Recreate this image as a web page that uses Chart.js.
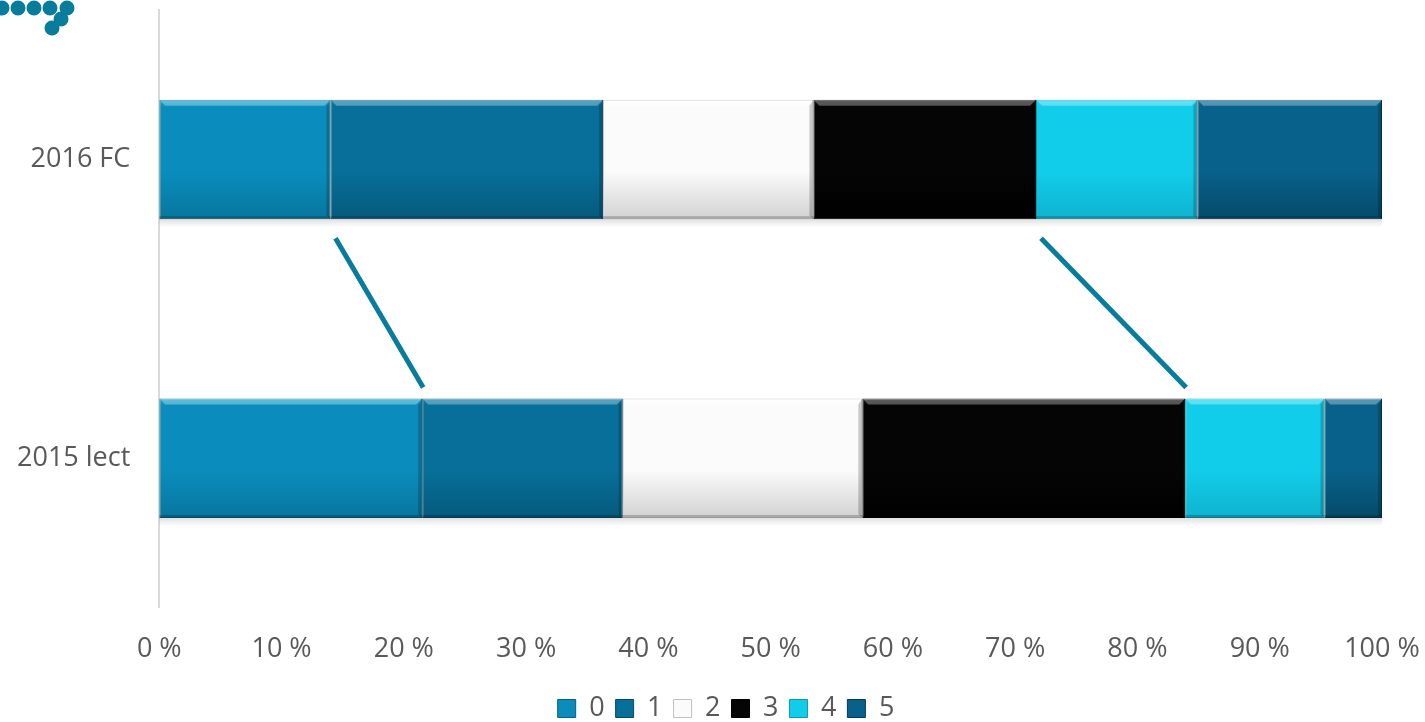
<!DOCTYPE html>
<html>
<head>
<meta charset="utf-8">
<script src="https://cdn.jsdelivr.net/npm/chart.js@4"></script>
<style>
  html, body { margin: 0; padding: 0; background: #fff; }
  #wrap { width: 1425px; height: 722px; position: relative; }
</style>
</head>
<body>
<div id="wrap"><canvas id="mixChart"></canvas></div>
<script>
const categories = ['2016 FC', '2015 lect'];
const seriesNames = ['0', '1', '2', '3', '4', '5'];
const series0 = [14.0, 21.5];
const series1 = [22.3, 16.4];
const series2 = [17.2, 19.6];
const series3 = [18.2, 26.4];
const series4 = [13.2, 11.4];
const series5 = [15.1, 4.7];
const xTicks = [0, 10, 20, 30, 40, 50, 60, 70, 80, 90, 100];

// top / mid / bottom tones for the bevelled look
const palette = [
    ['#18a8d6', '#0a8dbc', '#07769e'],
    ['#0a7fab', '#076f99', '#055a7d'],
    ['#ffffff', '#fbfbfb', '#d2d2d2'],
    ['#1a1a1a', '#050505', '#000000'],
    ['#1ad8f2', '#12cdea', '#0fb3cf'],
    ['#0b6f99', '#08618a', '#054a6a']
];
const edgeColors = ['#06607f', '#044a66', '#c0c0c0', '#000000', '#0a98b0', '#033a55'];
const textColor = '#595959';

const allSeries = [series0, series1, series2, series3, series4, series5];
const ctx = document.getElementById('mixChart').getContext('2d');

function barFill(i) {
    return function (c) {
        const chart = c.chart;
        const yScale = chart.scales.y;
        if (c.dataIndex === undefined || !yScale) return palette[i][1];
        const cy = yScale.getPixelForValue(c.dataIndex);
        const half = (chart.chartArea.bottom - chart.chartArea.top) / categories.length * 0.4 / 2;
        const g = chart.ctx.createLinearGradient(0, cy - half, 0, cy + half);
        g.addColorStop(0, palette[i][0]);
        g.addColorStop(0.06, palette[i][1]);
        g.addColorStop(0.6, palette[i][1]);
        g.addColorStop(1, palette[i][2]);
        return g;
    };
}

// decorative dots in the corner
const cornerDots = {
    id: 'cornerDots',
    afterDraw(chart) {
        const c = chart.ctx;
        c.save();
        c.fillStyle = '#077c9c';
        [[2, 8], [18, 8], [34, 8], [50, 8], [67, 8], [61, 19], [52, 28]].forEach(p => {
            c.beginPath();
            c.arc(p[0], p[1], 7.5, 0, Math.PI * 2);
            c.fill();
        });
        c.restore();
    }
};

// nudge the legend to the right like in the original
const legendShift = {
    id: 'legendShift',
    afterLayout(chart) {
        if (chart.legend) {
            chart.legend.left += 37;
            chart.legend.right += 37;
        }
    }
};

// bevel highlight on each bar + connector lines
const bevel = {
    id: 'bevel',
    beforeDatasetsDraw(chart) {
        // soft shadow under the bars
        const c = chart.ctx;
        c.save();
        const meta0 = chart.getDatasetMeta(0).data;
        const xs = chart.scales.x;
        meta0.forEach(bar => {
            const bottom = bar.y + bar.height / 2;
            const g = c.createLinearGradient(0, bottom, 0, bottom + 8);
            g.addColorStop(0, 'rgba(0,0,0,0.12)');
            g.addColorStop(1, 'rgba(0,0,0,0)');
            c.fillStyle = g;
            c.fillRect(xs.getPixelForValue(0), bottom, xs.getPixelForValue(100) - xs.getPixelForValue(0), 8);
        });
        c.restore();
    },
    afterDatasetsDraw(chart) {
        const c = chart.ctx;
        c.save();
        chart.data.datasets.forEach((ds, i) => {
            chart.getDatasetMeta(i).data.forEach(bar => {
                const left = Math.min(bar.x, bar.base);
                const right = Math.max(bar.x, bar.base);
                const top = bar.y - bar.height / 2;
                const bottom = bar.y + bar.height / 2;
                c.fillStyle = 'rgba(255,255,255,0.3)';
                c.beginPath();
                c.moveTo(left, top);
                c.lineTo(right, top);
                c.lineTo(right - 6, top + 6);
                c.lineTo(left + 6, top + 6);
                c.closePath();
                c.fill();
                c.fillStyle = 'rgba(0,0,0,0.2)';
                c.beginPath();
                c.moveTo(right, top);
                c.lineTo(right, bottom);
                c.lineTo(right - 4, bottom - 4);
                c.lineTo(right - 4, top + 6);
                c.closePath();
                c.fill();
                c.fillRect(left, bottom - 3, right - left, 3);
            });
        });

        // connector lines between boundaries
        const xs = chart.scales.x;
        const meta0 = chart.getDatasetMeta(0).data;
        const topBottom = meta0[0].y + meta0[0].height / 2;
        const lowTop = meta0[1].y - meta0[1].height / 2;
        const links = [0, 3];
        c.strokeStyle = '#077c9c';
        c.lineWidth = 5;
        links.forEach(k => {
            let a = 0, b = 0;
            for (let s = 0; s <= k; s++) { a += allSeries[s][0]; b += allSeries[s][1]; }
            c.beginPath();
            c.moveTo(xs.getPixelForValue(a) + 5, topBottom + 19);
            c.lineTo(xs.getPixelForValue(b) + 1, lowTop - 11);
            c.stroke();
        });
        c.restore();
    }
};

const noEdgePadding = scale => {
    scale.paddingTop = 0;
    scale.paddingBottom = 0;
    scale.paddingLeft = 0;
    scale.paddingRight = 0;
};

new Chart(ctx, {
    type: 'bar',
    data: {
        labels: categories,
        datasets: allSeries.map((d, i) => ({
            label: seriesNames[i],
            data: d,
            backgroundColor: barFill(i),
            borderColor: edgeColors[i],
            borderWidth: 1,
            borderSkipped: false,
            barPercentage: 0.4,
            categoryPercentage: 1
        }))
    },
    options: {
        indexAxis: 'y',
        responsive: true,
        maintainAspectRatio: false,
        animation: false,
        layout: { autoPadding: false, padding: { top: 10, right: 43, left: -4, bottom: -10 } },
        scales: {
            x: {
                stacked: true,
                min: 0,
                max: 100,
                afterBuildTicks: axis => { axis.ticks = xTicks.map(v => ({ value: v })); },
                afterFit: noEdgePadding,
                grid: { display: false },
                border: { display: false },
                ticks: {
                    color: textColor,
                    font: { family: 'Open Sans', size: 27 },
                    padding: 18,
                    maxRotation: 0,
                    callback: v => v + ' %'
                }
            },
            y: {
                stacked: true,
                afterFit: noEdgePadding,
                grid: { display: false },
                border: { color: '#d9d9d9', width: 2 },
                ticks: {
                    color: textColor,
                    font: { family: 'Open Sans', size: 27 },
                    padding: 21
                }
            }
        },
        plugins: {
            legend: {
                position: 'bottom',
                labels: {
                    color: textColor,
                    font: { family: 'Open Sans', size: 27 },
                    boxWidth: 18,
                    boxHeight: 18,
                    padding: 11,
                    generateLabels: chart => chart.data.datasets.map((ds, i) => ({
                        text: ds.label,
                        fillStyle: palette[i][1],
                        strokeStyle: edgeColors[i],
                        fontColor: textColor,
                        lineWidth: 1,
                        datasetIndex: i
                    }))
                }
            },
            tooltip: { enabled: false }
        }
    },
    plugins: [bevel, cornerDots, legendShift]
});
</script>
</body>
</html>
